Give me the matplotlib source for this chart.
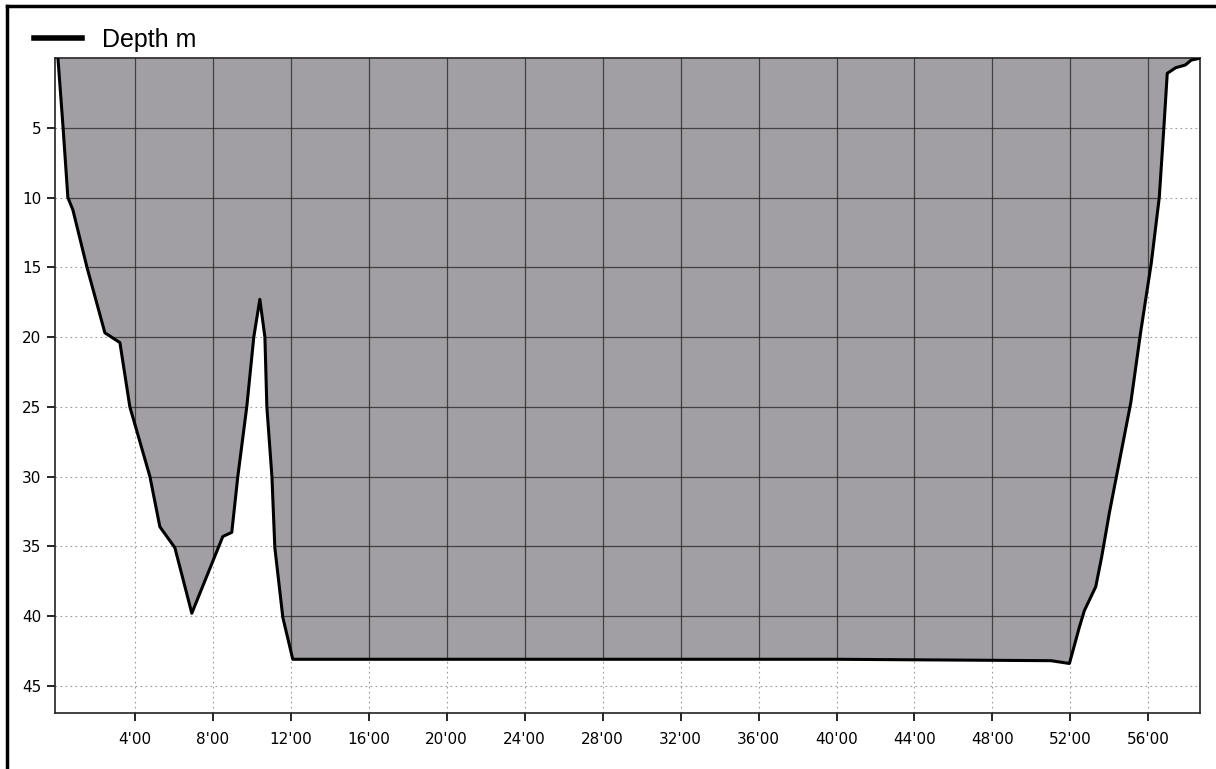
import matplotlib
matplotlib.use("Agg")
import matplotlib.pyplot as plt
from matplotlib.ticker import FuncFormatter
from matplotlib.lines import Line2D

# Dive profile: elapsed time (minutes) and depth (m)
time_min = [0.05, 0.31, 0.56, 0.82, 1.54, 2.46, 3.23, 3.74, 4.77, 5.28, 6.05, 6.92,
            8.51, 8.97, 9.28, 9.74, 10.1, 10.41, 10.67, 10.77, 11.03, 11.18, 11.59,
            12.10, 20.0, 30.0, 40.0, 51.0, 51.95, 52.46, 52.72, 53.3, 53.6, 54.0,
            55.1, 55.6, 56.15, 56.56, 56.8, 56.97, 57.4, 57.9, 58.2, 58.7]
depth_m = [0.0, 4.9, 10.0, 10.9, 15.0, 19.7, 20.4, 25.0, 30.0, 33.6, 35.1, 39.8,
           34.3, 34.0, 30.0, 25.0, 20.0, 17.3, 20.0, 25.0, 30.0, 35.1, 40.1,
           43.1, 43.1, 43.1, 43.1, 43.2, 43.4, 40.8, 39.6, 37.9, 35.8, 32.6,
           24.7, 19.7, 14.7, 10.0, 4.9, 1.1, 0.7, 0.5, 0.15, 0.0]
x_ticks = [4, 8, 12, 16, 20, 24, 28, 32, 36, 40, 44, 48, 52, 56]
y_ticks = [5, 10, 15, 20, 25, 30, 35, 40, 45]
series_label = "Depth m"

fig = plt.figure(figsize=(12.16, 7.69), dpi=100)
ax = fig.add_axes([55 / 1216, 1 - 713 / 769, (1200 - 55) / 1216, (713 - 58) / 769])

fill = ax.fill_between(time_min, 0, depth_m, color="#a29fa4", lw=0, zorder=1)
line, = ax.plot(time_min, depth_m, color="black", lw=2.2, zorder=3, label=series_label)

ax.set_xlim(-0.1, 58.65)
ax.set_ylim(46.95, 0)
ax.set_xticks(x_ticks)
ax.set_yticks(y_ticks)
ax.xaxis.set_major_formatter(FuncFormatter(lambda v, p: f"{int(round(v))}'00"))

# light dotted grid (visible on white)
ax.grid(True, color="#9a9a9a", lw=0.8, ls=(0, (1.5, 3)), zorder=0.5)
ax.set_axisbelow(True)

# darker solid grid lines visible over the filled area
path = fill.get_paths()[0]
for xv in x_ticks:
    l = ax.axvline(xv, color="#222222", lw=0.9, alpha=0.75, zorder=2)
    l.set_clip_path(path, ax.transData)
for yv in y_ticks:
    l = ax.axhline(yv, color="#222222", lw=0.9, alpha=0.75, zorder=2)
    l.set_clip_path(path, ax.transData)

ax.tick_params(axis="both", direction="out", length=6, width=1.2, labelsize=11,
               colors="black", pad=4)
ax.tick_params(axis="x", pad=8)
for s in ax.spines.values():
    s.set_linewidth(1.2)
    s.set_color("#222222")

leg = fig.legend(handles=[line], labels=[series_label], loc="upper left",
                 bbox_to_anchor=(24 / 1216, 1 - 18 / 769), frameon=False,
                 prop={"family": "Liberation Sans", "size": 18},
                 handlelength=1.9, handletextpad=0.8, borderaxespad=0)
leg.get_lines()[0].set_linewidth(4)

# scanned page border (top and left)
fig.add_artist(Line2D([7 / 1216, 1.0], [1 - 6 / 769, 1 - 6 / 769],
                      transform=fig.transFigure, color="black", lw=2.5))
fig.add_artist(Line2D([7 / 1216, 7 / 1216], [0.0, 1 - 6 / 769],
                      transform=fig.transFigure, color="black", lw=2.5))

fig.savefig("out.png", dpi=100)
